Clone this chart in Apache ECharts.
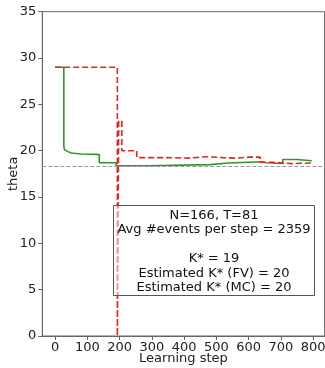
<!DOCTYPE html>
<html>
<head>
<meta charset="utf-8">
<script src="https://cdn.jsdelivr.net/npm/echarts@6/dist/echarts.min.js"></script>
<style>
html,body{margin:0;padding:0;background:#fff;}
#chart{width:325px;height:368px;}
</style>
</head>
<body>
<div id="chart"></div>
<script>
// Learning curve of the green (FV) estimate: [step, theta]
var greenSteps  = [0, 27, 29, 33, 40, 50, 80, 130, 137, 189, 288, 480, 537, 641, 655, 706, 751, 796];
var greenTheta  = [29.0, 20.5, 20.1, 19.9, 19.75, 19.65, 19.6, 19.55, 18.7, 18.38, 18.5, 18.67, 18.8, 18.7, 18.62, 19.05, 18.92, 18.92];
// Learning curve of the red (MC) estimate
var redSteps    = [0, 193, 197, 207, 253, 340, 419, 450, 470, 520, 560, 600, 636, 677, 735, 796];
var redTheta    = [29.0, 0, 23.2, 20.0, 19.25, 19.2, 19.3, 19.35, 19.25, 19.2, 19.3, 19.3, 18.75, 18.6, 18.68, 18.68];
// Reference theta (gray dashed line)
var thetaRef = 18.35;
var xTicks = [0, 100, 200, 300, 400, 500, 600, 700, 800];
var yTicks = [0, 5, 10, 15, 20, 25, 30, 35];
var infoLines = ['N=166, T=81', 'Avg #events per step = 2359', '', 'K* = 19', 'Estimated K* (FV) = 20', 'Estimated K* (MC) = 20'];

function pairs(xs, ys){ return xs.map(function(x,i){ return [x, ys[i]]; }); }

var chart = echarts.init(document.getElementById('chart'), null, {renderer:'canvas'});
var FONT = 'DejaVu Sans';
var axisColor = '#666';
var labelColor = '#222';

chart.setOption({
  animation: false,
  textStyle: {fontFamily: FONT},
  grid: {left: 42.3, top: 11.7, width: 282.3, bottom: 32, show: true, borderColor: axisColor, borderWidth: 1,
         containLabel: false, outerBoundsMode: 'none'},
  xAxis: {
    type: 'value', min: -39.8, max: 835.8,
    name: 'Learning step', nameLocation: 'middle', nameGap: 16, nameMoveOverlap: false,
    nameTextStyle: {fontFamily: FONT, fontSize: 13, color: labelColor},
    axisLine: {show: true, onZero: false, lineStyle: {color: axisColor}},
    axisTick: {show: true, length: 4, lineStyle: {color: axisColor}, customValues: xTicks},
    axisLabel: {fontFamily: FONT, fontSize: 13, color: labelColor, margin: 5, customValues: xTicks},
    splitLine: {show: false}
  },
  yAxis: {
    type: 'value', min: 0, max: 35, interval: 5,
    name: 'theta', nameLocation: 'middle', nameGap: 22, nameRotate: 90, nameMoveOverlap: false,
    nameTextStyle: {fontFamily: FONT, fontSize: 13, color: labelColor},
    axisLine: {show: true, onZero: false, lineStyle: {color: axisColor}},
    axisTick: {show: true, length: 4, lineStyle: {color: axisColor}},
    axisLabel: {fontFamily: FONT, fontSize: 13, color: labelColor, margin: 6},
    splitLine: {show: false}
  },
  series: [
    {
      type: 'line', step: 'end', showSymbol: false, symbol: 'none',
      data: pairs(greenSteps, greenTheta),
      lineStyle: {color: '#2f962f', width: 1.6},
      z: 3
    },
    {
      type: 'line', step: 'end', showSymbol: false, symbol: 'none',
      data: pairs(redSteps, redTheta),
      lineStyle: {color: '#f02020', width: 1.6, type: [6, 3]},
      z: 4,
      markLine: {
        silent: true, symbol: 'none', label: {show: false},
        lineStyle: {color: '#9a9a9a', width: 1, type: [4, 2]},
        data: [{yAxis: thetaRef}]
      }
    }
  ],
  graphic: [
    {
      type: 'group', left: 113, top: 205,
      children: [
        {type: 'rect', shape: {x: 0, y: 0, width: 201, height: 90},
         style: {fill: 'rgba(255,255,255,0.5)', stroke: '#555', lineWidth: 1}, z: 10},
        {type: 'text', x: 100.5, y: 3, z: 11,
         style: {text: infoLines.join('\n'), font: '13px "DejaVu Sans"', fill: '#111', align: 'center', verticalAlign: 'top', lineHeight: 14.4}}
      ]
    }
  ]
});
</script>
</body>
</html>
